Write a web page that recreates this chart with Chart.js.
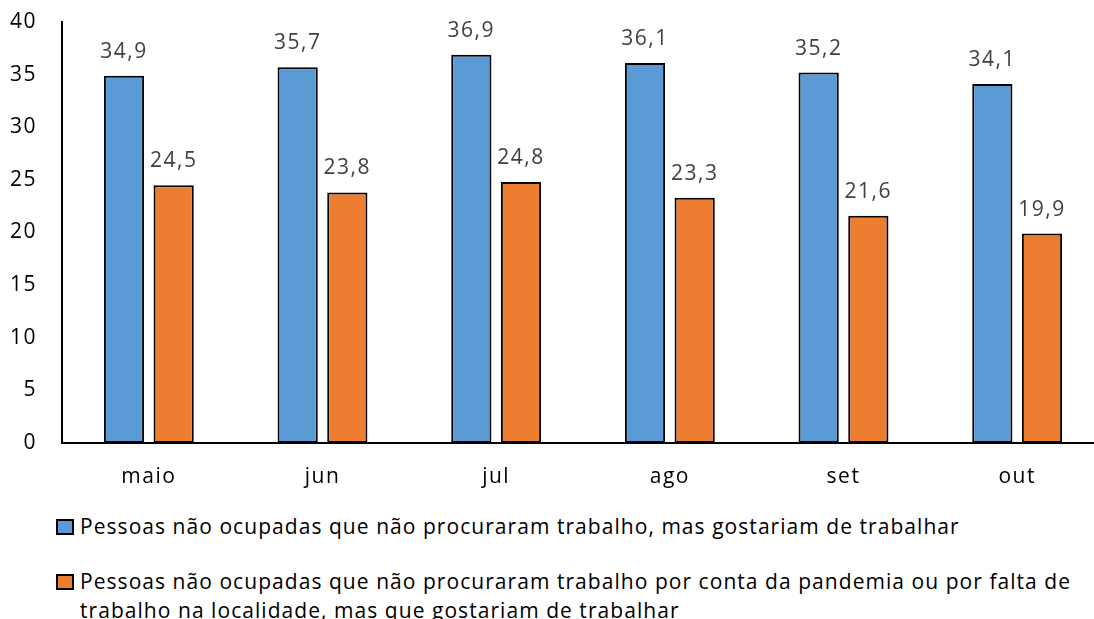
<!DOCTYPE html>
<html lang="pt-BR">
<head>
<meta charset="utf-8">
<script src="https://cdn.jsdelivr.net/npm/chart.js@4/dist/chart.umd.min.js"></script>
<style>
  html, body { margin: 0; padding: 0; background: #fff; overflow: hidden; width: 1094px; height: 619px; }
  #wrap { position: relative; width: 1094px; height: 619px; }
  #c { position: absolute; left: 0; top: 0; }
  .leg { position: absolute; left: 56px; font-family: "Open Sans", sans-serif; font-size: 21px;
         line-height: 29px; color: #000; letter-spacing: 1.05px; white-space: nowrap; }
  .leg .box { position: absolute; left: 0; top: 7px; width: 14px; height: 12px; border: 2px solid #000; }
  .leg .txt { margin-left: 24px; }
</style>
</head>
<body>
<div id="wrap">
  <canvas id="c" width="1110" height="500"></canvas>
  <div class="leg" id="leg1" style="top:512px"><span class="box"></span><div class="txt"></div></div>
  <div class="leg" id="leg2" style="top:567px"><span class="box"></span><div class="txt"></div></div>
</div>
<script>
// Months shown on the horizontal axis
const months = ['maio', 'jun', 'jul', 'ago', 'set', 'out'];

// Millions of people, per month
const naoProcuraramGostariam = [34.9, 35.7, 36.9, 36.1, 35.2, 34.1];
const porPandemiaOuFalta = [24.5, 23.8, 24.8, 23.3, 21.6, 19.9];

// Series names
const seriesNames = [
  'Pessoas não ocupadas que não procuraram trabalho, mas gostariam de trabalhar',
  'Pessoas não ocupadas que não procuraram trabalho por conta da pandemia ou por falta de\ntrabalho na localidade, mas que gostariam de trabalhar'
];

// Vertical axis ticks
const yTicks = [0, 5, 10, 15, 20, 25, 30, 35, 40];

const colors = ['#5B9BD5', '#ED7D31'];
const FONT = '"Open Sans", sans-serif';
const SPACING = '1.5px';

// Wider glyph spacing for all canvas text
const spacingPlugin = {
  id: 'spacing',
  beforeUpdate(chart) { chart.ctx.letterSpacing = SPACING; },
  beforeLayout(chart) { chart.ctx.letterSpacing = SPACING; },
  beforeDraw(chart) { chart.ctx.letterSpacing = SPACING; }
};

// Value labels above each bar
const valueLabels = {
  id: 'valueLabels',
  afterDatasetsDraw(chart) {
    const ctx = chart.ctx;
    ctx.save();
    ctx.letterSpacing = SPACING;
    ctx.font = '21px ' + FONT;
    ctx.fillStyle = '#404040';
    ctx.textAlign = 'center';
    ctx.textBaseline = 'middle';
    chart.data.datasets.forEach((ds, i) => {
      chart.getDatasetMeta(i).data.forEach((bar, j) => {
        ctx.fillText(ds.data[j].toFixed(1).replace('.', ','), bar.x, bar.y - 24);
      });
    });
    ctx.restore();
  }
};

new Chart(document.getElementById('c'), {
  type: 'bar',
  data: {
    labels: months,
    datasets: [
      { label: seriesNames[0], data: naoProcuraramGostariam, backgroundColor: colors[0],
        borderColor: '#000', borderWidth: 2, borderSkipped: false },
      { label: seriesNames[1], data: porPandemiaOuFalta, backgroundColor: colors[1],
        borderColor: '#000', borderWidth: 2, borderSkipped: false }
    ]
  },
  options: {
    responsive: false,
    animation: false,
    devicePixelRatio: 1,
    layout: { padding: { top: 22, right: 6, left: 0, bottom: 0 } },
    datasets: { bar: { categoryPercentage: 0.572, barPercentage: 0.81 } },
    plugins: { legend: { display: false }, tooltip: { enabled: false } },
    scales: {
      x: {
        grid: { display: false, drawTicks: false },
        border: { display: true, color: '#000', width: 2 },
        ticks: { color: '#000', font: { family: FONT, size: 21 }, padding: 21 },
        afterFit(scale) { scale.height = 57; scale.paddingLeft = 0; scale.paddingRight = 0; }
      },
      y: {
        min: 0, max: 40,
        afterBuildTicks(scale) { scale.ticks = yTicks.map(v => ({ value: v })); },
        grid: { display: false, drawTicks: false },
        border: { display: true, color: '#000', width: 2 },
        ticks: { color: '#000', font: { family: FONT, size: 21 }, padding: 25 },
        afterFit(scale) { scale.width = 62; scale.paddingTop = 0; scale.paddingBottom = 0; }
      }
    }
  },
  plugins: [spacingPlugin, valueLabels]
});

// Legend below the chart
[0, 1].forEach(i => {
  const el = document.getElementById('leg' + (i + 1));
  el.querySelector('.box').style.background = colors[i];
  el.querySelector('.txt').innerHTML = seriesNames[i].replace('\n', '<br>');
});
</script>
</body>
</html>
